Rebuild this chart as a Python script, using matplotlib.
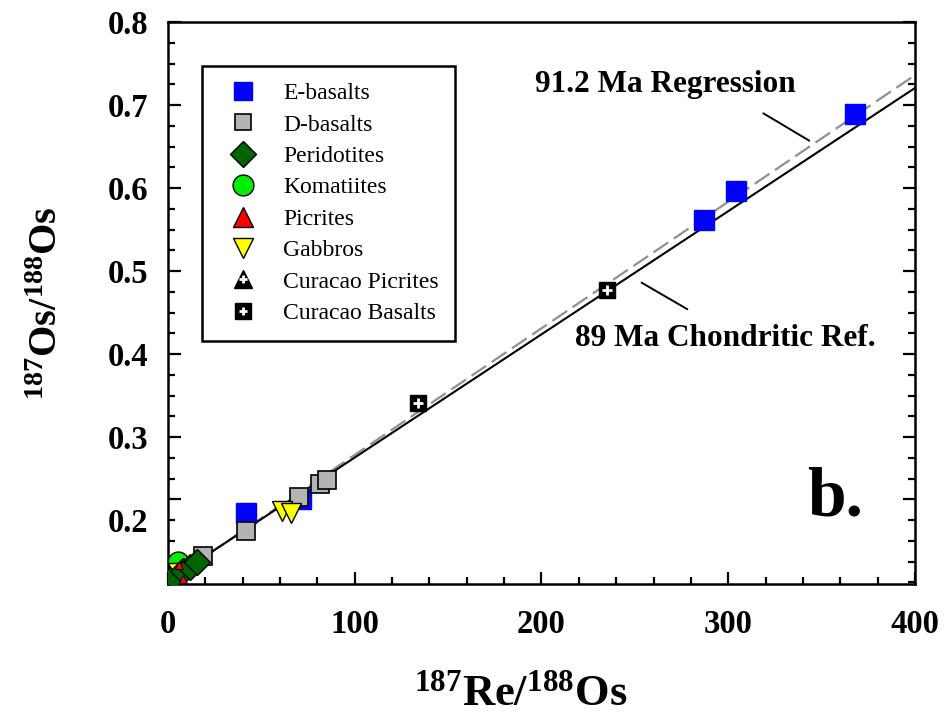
import matplotlib.pyplot as plt
from matplotlib.lines import Line2D

plt.rcParams['font.family'] = ['Liberation Serif', 'DejaVu Serif']
plt.rcParams['mathtext.default'] = 'regular'

# data (187Re/188Os, 187Os/188Os)
e_basalt_x = [42, 71, 287, 304, 368]
e_basalt_y = [0.208, 0.225, 0.561, 0.596, 0.689]
d_basalt_x = [18.5, 42, 70, 81.4, 85.1]
d_basalt_y = [0.157, 0.187, 0.228, 0.243, 0.248]
perid_x = [1, 8, 12, 15.5]
perid_y = [0.128, 0.139, 0.144, 0.149]
komat_x = [5.5]
komat_y = [0.150]
picrite_x = [6, 8]
picrite_y = [0.146, 0.129]
gabbro_x = [5.5, 61, 66]
gabbro_y = [0.136, 0.211, 0.208]
cur_pic_x = [2]
cur_pic_y = [0.130]
cur_bas_x = [134, 235]
cur_bas_y = [0.341, 0.477]

# reference lines (end points)
chond_x = [0, 400]
chond_y = [0.127, 0.7205]
regr_x = [0, 400]
regr_y = [0.126, 0.736]

fig = plt.figure(figsize=(9.47, 7.26), dpi=100)
ax = fig.add_axes([0.1774, 0.1956, 0.7888, 0.7741])

ax.plot(regr_x, regr_y, color='#909090', lw=1.6, ls=(0, (8, 3)), zorder=1)
ax.plot(chond_x, chond_y, color='black', lw=1.5, zorder=1)

ms = 14
ax.plot(e_basalt_x, e_basalt_y, 's', ms=ms, color='#0000ff', mec='#0000ff', zorder=2)
ax.plot(d_basalt_x, d_basalt_y, 's', ms=ms - 1, color='#b4b4b4', mec='black', mew=1.2, zorder=3)
ax.plot(komat_x, komat_y, 'o', ms=ms + 1, color='#00ee00', mec='black', mew=1.0, zorder=3)
ax.plot(gabbro_x, gabbro_y, 'v', ms=ms + 1, color='#ffff00', mec='black', mew=1.0, zorder=3)
ax.plot(cur_pic_x, cur_pic_y, '^', ms=ms - 2, color='black', zorder=3)
ax.plot(perid_x, perid_y, 'D', ms=ms - 1, color='#006400', mec='black', mew=1.0, zorder=4)
ax.plot(picrite_x, picrite_y, '^', ms=6, color='#ff0000', mec='black', mew=0.6, zorder=4)
ax.plot(cur_bas_x, cur_bas_y, 's', ms=ms - 2, color='black', zorder=4)
ax.plot(cur_bas_x, cur_bas_y, '+', ms=7, color='white', mew=2, zorder=5)

ax.set_xlim(0, 400)
ax.set_ylim(0.123, 0.8)
ax.set_xticks([0, 100, 200, 300, 400])
ax.set_xticks([v for v in range(0, 401, 20) if v % 100], minor=True)
ax.set_yticks([0.225, 0.3, 0.4, 0.5, 0.6, 0.7, 0.8])
ax.set_yticklabels(['', '0.3', '0.4', '0.5', '0.6', '0.7', '0.8'])
ymin = [0.125, 0.15, 0.175, 0.2, 0.25, 0.275, 0.325, 0.35, 0.375, 0.425, 0.45, 0.475,
        0.525, 0.55, 0.575, 0.625, 0.65, 0.675, 0.725, 0.75, 0.775]
ax.set_yticks(ymin, minor=True)
ax.set_yticklabels(['0.2' if abs(v - 0.2) < 1e-9 else '' for v in ymin], minor=True)

ax.tick_params(which='both', direction='in', right=True, top=False, width=1.6,
               labelsize=23.5)
ax.tick_params(axis='x', which='both', pad=18)
ax.tick_params(axis='y', which='both', pad=14)
ax.tick_params(which='major', length=9)
ax.tick_params(which='minor', length=5)
for lab in ax.get_xticklabels() + ax.get_yticklabels() + ax.get_yticklabels(minor=True):
    lab.set_fontweight('bold')
for s in ax.spines.values():
    s.set_linewidth(1.8)

ax.set_xlabel('$^{187}$Re/$^{188}$Os', fontsize=32, fontweight='bold')
ax.xaxis.set_label_coords(0.4726, -0.16)
ax.set_ylabel('$^{187}$Os/$^{188}$Os', fontsize=29, fontweight='bold', labelpad=30)

ax.text(196.5, 0.725, '91.2 Ma Regression', fontsize=22.5, fontweight='bold', va='center')
ax.text(218, 0.419, '89 Ma Chondritic Ref.', fontsize=22.5, fontweight='bold', va='center')
ax.annotate('', xy=(343.4, 0.657), xytext=(318.8, 0.690),
            arrowprops=dict(arrowstyle='-', color='black', lw=1.4, shrinkA=0, shrinkB=0))
ax.annotate('', xy=(278.1, 0.454), xytext=(253.6, 0.486),
            arrowprops=dict(arrowstyle='-', color='black', lw=1.4, shrinkA=0, shrinkB=0))
ax.text(342, 0.206, 'b.', fontsize=50, fontweight='bold', va='baseline')

handles = [
    Line2D([], [], ls='', marker='s', ms=13, color='#0000ff'),
    Line2D([], [], ls='', marker='s', ms=12, color='#b4b4b4', mec='black', mew=1.2),
    Line2D([], [], ls='', marker='D', ms=13, color='#006400', mec='black', mew=1.0),
    Line2D([], [], ls='', marker='o', ms=15, color='#00ee00', mec='black', mew=1.0),
    Line2D([], [], ls='', marker='^', ms=14, color='#ff0000', mec='black', mew=1.0),
    Line2D([], [], ls='', marker='v', ms=14, color='#ffff00', mec='black', mew=1.0),
    (Line2D([], [], ls='', marker='^', ms=13, color='black'),
     Line2D([], [], ls='', marker='+', ms=6, color='white', mew=2)),
    (Line2D([], [], ls='', marker='s', ms=11, color='black'),
     Line2D([], [], ls='', marker='+', ms=6, color='white', mew=2)),
]
labels = ['E-basalts', 'D-basalts', 'Peridotites', 'Komatiites', 'Picrites',
          'Gabbros', 'Curacao Picrites', 'Curacao Basalts']
leg = ax.legend(handles, labels, loc='upper left', bbox_to_anchor=(0.0455, 0.9217),
                fontsize=17, frameon=True, fancybox=False, edgecolor='black',
                framealpha=1, borderpad=0.7, labelspacing=0.42, handlelength=2.06,
                handletextpad=0.67, borderaxespad=0)
leg.get_frame().set_linewidth(1.8)

plt.savefig('out.png', dpi=100)
